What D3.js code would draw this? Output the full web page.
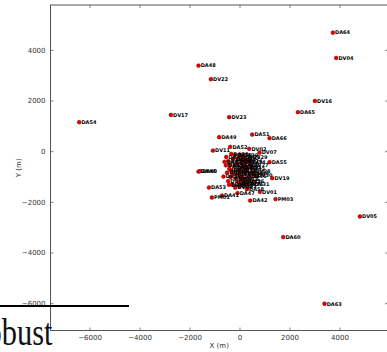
<!DOCTYPE html>
<html>
<head>
<meta charset="utf-8">
<script src="https://cdn.jsdelivr.net/npm/d3@7"></script>
<style>
  html, body { margin: 0; padding: 0; background: #fff; }
  svg { display: block; }
</style>
</head>
<body>
<svg id="chart" width="387" height="352"></svg>
<script>
// Antenna pad positions (metres east / north of array centre)
const names = [
  "DA64","DV04","DV16","DA65","DA48","DV22","DV17","DV23","DA54","DA49",
  "DA51","DA66","DA52","DV11","DV02","DV07","DA50","DA55","DA44","DA43",
  "DV19","DA53","DA58","DV01","DA41","DA47","PM01","DA42","PM03","DV05",
  "DA60","DA63","DV13",
  "DA45","DA56","DA57","DA59","DA61","DA62","DV03","DV06","DV08","DV09",
  "DV10","DV12","DV14","DV15","DV18","DV20","DV21","DV24","DV25","PM02",
  "PM04","DA46","DV26","DV27","DV28","DV29","DV30","DV31","DA39","DA38",
  "DA37","DA36","DA35","DA34","DA33","DA32","DA31","DV32","DV33","DV34",
  "DV35","DV36","DV37","DV38","DV39","DV40"
];
const xs = [
  3736, 3868, 3016, 2336, -1640, -1144, -2744, -412, -6412, -812,
  508, 1200, -372, -1064, 388, 800, -188, 1200, -1640, -1580,
  1308, -1224, 296, 816, -704, -80, -1104, 428, 1440, 4816,
  1748, 3400, -640,
  -530, -450, -545, -410, -500, -360, -455, -290, -170, -250,
  -95, -180, -10, -100, 70, -20, 150, 230, 140, 310,
  225, 390, 300, 470, 550, 430, 630, 510, 60, -330,
  -600, -380, -260, -140, 0, 100, 200, 80, -30, 350,
  260, -420, 160, -330, 40, 480
];
const ys = [
  4678, 3680, 1984, 1538, 3377, 2840, 1432, 1341, 1144, 552,
  655, 513, 170, 24, 91, -55, -146, -434, -805, -790,
  -1065, -1436, -1499, -1606, -1752, -1657, -1830, -1949, -1893, -2580,
  -3393, -6024, -1002,
  -230, -390, -560, -700, -850, -1020, -1180, -1320, -1440, -300,
  -470, -620, -780, -930, -1100, -1250, -230, -380, -540, -700,
  -860, -1010, -1170, -540, -780, -260, -970, -1290, -150, -110,
  -420, -560, -880, -1100, -1380, -1000, -650, -400, -300, -420,
  -1300, -1330, -1220, -760, -650, -860
];

const xTicks = [-6000, -4000, -2000, 0, 2000, 4000];
const yTicks = [-6000, -4000, -2000, 0, 2000, 4000];
const xDomain = [-7560, 5940];
const yDomain = [-7080, 5770];

const svg = d3.select("#chart");
const plotL = 50.5, plotR = 388, plotT = 5, plotB = 330.5;

const x = d3.scaleLinear().domain(xDomain).range([plotL, plotR]);
const y = d3.scaleLinear().domain(yDomain).range([plotB, plotT]);

const fmt = d => (d < 0 ? "\u2212" + Math.abs(d) : String(d));
const tickFont = "DejaVu Sans, sans-serif";

// inward ticks on all four sides, labels only on bottom and left
const axB = d3.axisBottom(x).tickValues(xTicks).tickFormat(fmt).tickSizeInner(-3).tickSizeOuter(0).tickPadding(5);
const axT = d3.axisTop(x).tickValues(xTicks).tickFormat("").tickSizeInner(-3).tickSizeOuter(0);
const axL = d3.axisLeft(y).tickValues(yTicks).tickFormat(fmt).tickSizeInner(-3).tickSizeOuter(0).tickPadding(5);
const axR = d3.axisRight(y).tickValues(yTicks).tickFormat("").tickSizeInner(-3).tickSizeOuter(0);

function styleAxis(g) {
  g.select(".domain").remove();
  g.selectAll(".tick line").attr("stroke", "#666").attr("stroke-width", 0.8);
  g.selectAll(".tick text").attr("fill", "#333").attr("font-family", tickFont).attr("font-size", 7);
}

svg.append("g").attr("transform", `translate(0,${plotB})`).call(axB).call(styleAxis);
svg.append("g").attr("transform", `translate(0,${plotT})`).call(axT).call(styleAxis);
svg.append("g").attr("transform", `translate(${plotL},0)`).call(axL).call(styleAxis);
svg.append("g").attr("transform", `translate(${plotR},0)`).call(axR).call(styleAxis);

// frame
svg.append("rect")
  .attr("x", plotL).attr("y", plotT)
  .attr("width", plotR - plotL).attr("height", plotB - plotT)
  .attr("fill", "none").attr("stroke", "#555").attr("stroke-width", 1);

// axis titles
svg.append("text")
  .attr("x", (plotL + plotR) / 2).attr("y", 347.5)
  .attr("text-anchor", "middle")
  .attr("font-family", tickFont).attr("font-size", 7).attr("fill", "#333")
  .text("X (m)");
svg.append("text")
  .attr("transform", `translate(21,${(plotT + plotB) / 2}) rotate(-90)`)
  .attr("text-anchor", "middle")
  .attr("font-family", tickFont).attr("font-size", 7).attr("fill", "#333")
  .text("Y (m)");

const pads = names.map((n, i) => ({ name: n, x: xs[i], y: ys[i] }));

// markers
svg.append("g").selectAll("circle").data(pads).join("circle")
  .attr("cx", d => x(d.x)).attr("cy", d => y(d.y))
  .attr("r", 1.9)
  .attr("fill", "#ee0000").attr("stroke", "#550000").attr("stroke-width", 0.5);

// pad names
svg.append("g").selectAll("text").data(pads).join("text")
  .attr("x", d => x(d.x) + 2.2).attr("y", d => y(d.y))
  .attr("dy", "0.35em")
  .attr("font-family", tickFont).attr("font-size", 5).attr("font-weight", "bold")
  .attr("fill", "#000")
  .text(d => d.name);

// surrounding page: rule and running text
svg.append("line")
  .attr("x1", 0).attr("x2", 129).attr("y1", 306).attr("y2", 306)
  .attr("stroke", "#000").attr("stroke-width", 2.2);
svg.append("text")
  .attr("transform", "translate(52.5,344.5) scale(0.8,1)")
  .attr("text-anchor", "end")
  .attr("font-family", "Liberation Serif, DejaVu Serif, serif").attr("font-size", 38)
  .attr("fill", "#111")
  .text("Robust");
</script>
</body>
</html>
